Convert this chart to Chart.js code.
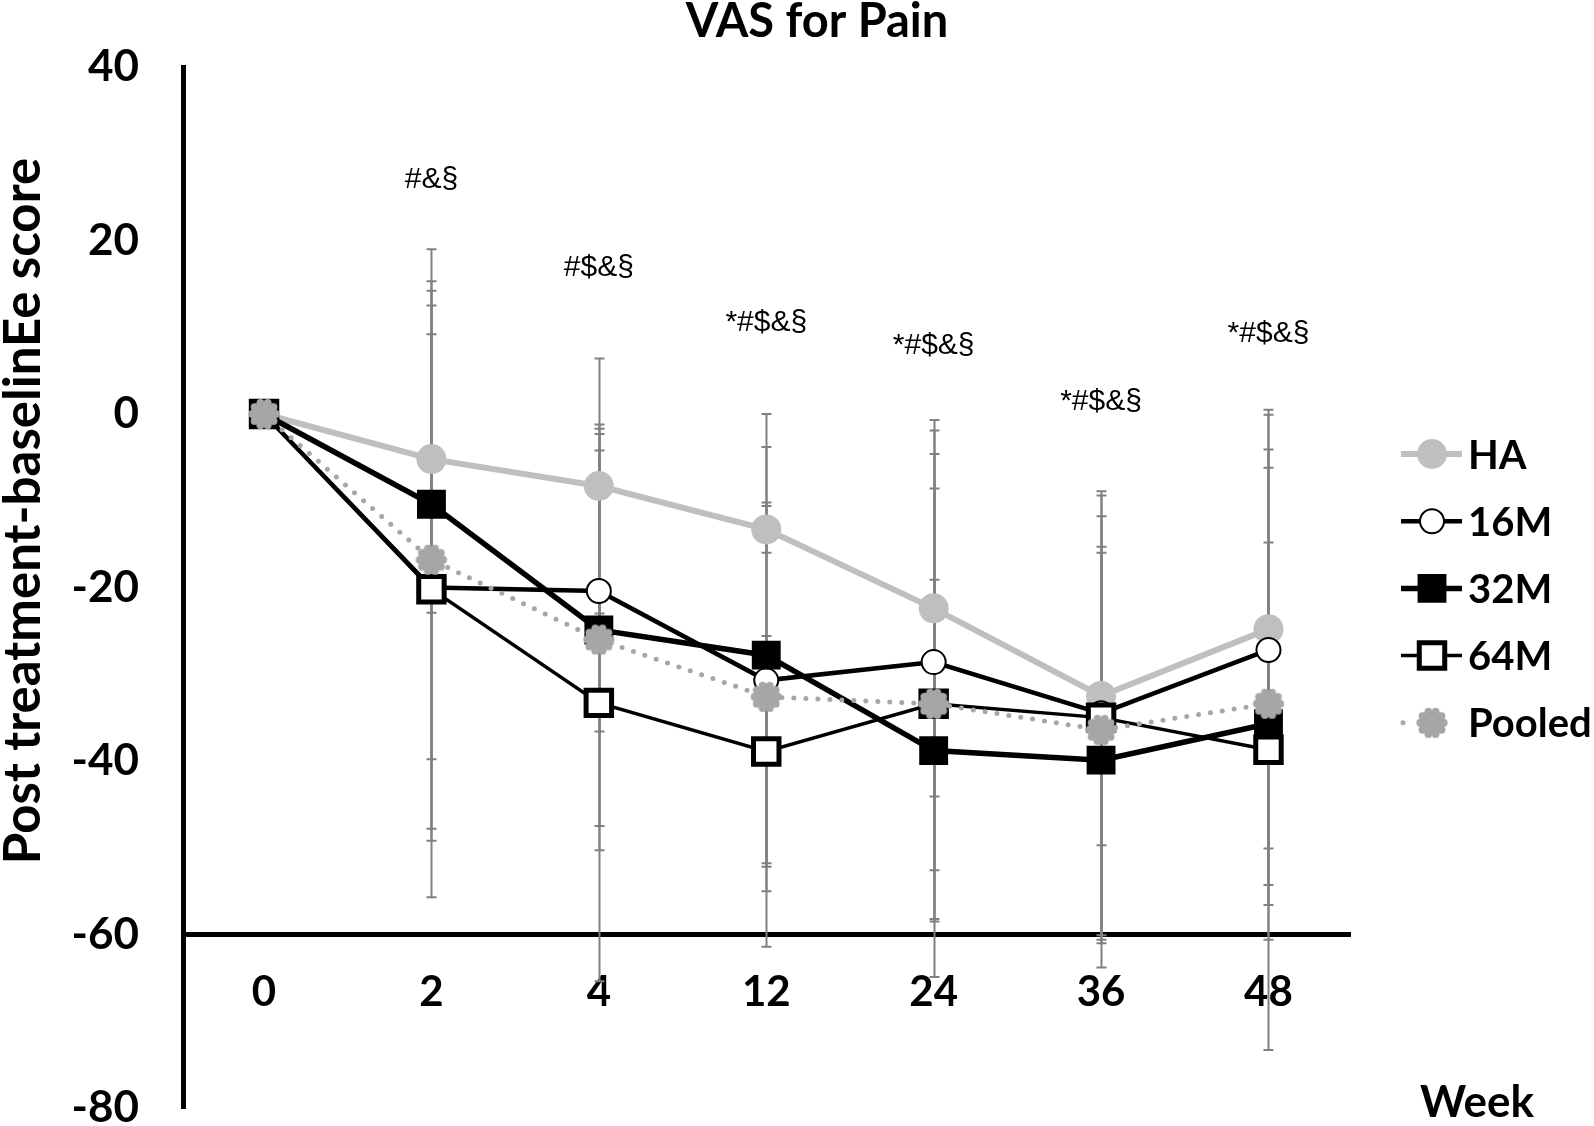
<!DOCTYPE html>
<html>
<head>
<meta charset="utf-8">
<title>VAS for Pain</title>
<script src="https://cdn.jsdelivr.net/npm/chart.js@4.4.1/dist/chart.umd.min.js"></script>
<style>
    html, body { margin: 0; padding: 0; background: #fff; }
</style>
</head>
<body>
<canvas id="vasChart" width="1594" height="1126"></canvas>
<script>
// categories (weeks) and tick values
const weeks = ["0", "2", "4", "12", "24", "36", "48"];
const yMin = -80, yMax = 40, yStep = 20;

// means (post treatment - baseline) and SD per group
const haMean = [0, -5.2, -8.3, -13.3, -22.4, -32.5, -24.8];
const haSd = [0, 17.7, 14.7, 2.7, 21.7, 17.2, 25.3];
const m16Mean = [0, -20.0, -20.4, -30.7, -28.6, -34.5, -27.2];
const m16Sd = [0, 29.2, 16.2, 30.7, 24.0, 25.6, 27.1];
const m32Mean = [0, -10.4, -24.9, -27.8, -38.8, -39.9, -35.7];
const m32Sd = [0, 29.4, 22.6, 24.0, 19.7, 23.9, 20.9];
const m64Mean = [0, -20.2, -33.3, -38.9, -33.4, -35.0, -38.7];
const m64Sd = [0, 35.5, 32.1, 13.3, 31.5, 25.6, 34.6];
const pooledMean = [0, -16.8, -26.0, -32.6, -33.4, -36.4, -33.4];
const pooledSd = [0, 31.0, 24.3, 22.4, 24.8, 24.6, 27.2];

// significance marks above each week
const sigLabels = ["", "#&§", "#$&§", "*#$&§", "*#$&§", "*#$&§", "*#$&§"];
const sigY = [null, 27.0, 16.9, 10.5, 7.9, 1.4, 9.3];

const LIGHT = "#bfbfbf";
const POOLED = "#a6a6a6";
const ERR = "#808080";
const FONT = "Lato, 'Open Sans', sans-serif";

function toPoints(arr) {
    return arr.map((v, i) => ({ x: i, y: v }));
}

// gear-ish marker used for the pooled group
function makeGear(r, color) {
    const c = document.createElement("canvas");
    const s = Math.ceil(r * 2 + 4);
    c.width = s;
    c.height = s;
    const g = c.getContext("2d");
    const cx = s / 2;
    g.fillStyle = color;
    g.beginPath();
    g.arc(cx, cx, r * 0.8, 0, Math.PI * 2);
    g.fill();
    for (let k = 0; k < 10; k++) {
        const a = (k * Math.PI) / 5;
        g.beginPath();
        g.arc(cx + Math.cos(a) * r * 0.78, cx + Math.sin(a) * r * 0.78, r * 0.26, 0, Math.PI * 2);
        g.fill();
    }
    return c;
}
const gear = makeGear(15, POOLED);

const datasets = [
    {
        label: "HA", data: toPoints(haMean), sd: haSd, order: 5,
        borderColor: LIGHT, borderWidth: 6,
        pointStyle: "circle", pointRadius: 15,
        pointBackgroundColor: LIGHT, pointBorderColor: LIGHT, pointBorderWidth: 0,
    },
    {
        label: "16M", data: toPoints(m16Mean), sd: m16Sd, order: 4,
        borderColor: "#000", borderWidth: 4.5,
        pointStyle: "circle", pointRadius: 12,
        pointBackgroundColor: "#fff", pointBorderColor: "#000", pointBorderWidth: 2,
    },
    {
        label: "32M", data: toPoints(m32Mean), sd: m32Sd, order: 3,
        borderColor: "#000", borderWidth: 5.5,
        pointStyle: "rect", pointRadius: 19,
        pointBackgroundColor: "#000", pointBorderColor: "#000", pointBorderWidth: 2,
    },
    {
        label: "64M", data: toPoints(m64Mean), sd: m64Sd, order: 2,
        borderColor: "#000", borderWidth: 3.5,
        pointStyle: "rect", pointRadius: 18,
        pointBackgroundColor: "#fff", pointBorderColor: "#000", pointBorderWidth: 5,
    },
    {
        label: "Pooled", data: toPoints(pooledMean), sd: pooledSd, order: 1,
        borderColor: POOLED, borderWidth: 5, borderDash: [0, 12], borderCapStyle: "round",
        pointStyle: gear, pointRadius: 15,
        pointBackgroundColor: POOLED, pointBorderColor: POOLED, pointBorderWidth: 0,
    },
];

// error bars behind the lines
const errorBars = {
    id: "errorBars",
    beforeDatasetsDraw(chart) {
        const { ctx, scales: { x, y } } = chart;
        ctx.save();
        ctx.strokeStyle = ERR;
        ctx.lineWidth = 2;
        chart.data.datasets.forEach((ds) => {
            ds.data.forEach((p, i) => {
                const sd = ds.sd[i];
                if (!sd) return;
                const px = Math.round(x.getPixelForValue(p.x)) + 0.5;
                const top = y.getPixelForValue(p.y + sd);
                const bot = y.getPixelForValue(p.y - sd);
                ctx.beginPath();
                ctx.moveTo(px, top);
                ctx.lineTo(px, bot);
                ctx.moveTo(px - 5, top);
                ctx.lineTo(px + 5, top);
                ctx.moveTo(px - 5, bot);
                ctx.lineTo(px + 5, bot);
                ctx.stroke();
            });
        });
        ctx.restore();
    },
};

// titles, significance marks and legend
const decorations = {
    id: "decorations",
    afterDraw(chart) {
        const { ctx, scales: { x, y } } = chart;
        ctx.save();
        ctx.fillStyle = "#000";

        ctx.font = "bold 47px " + FONT;
        ctx.textAlign = "center";
        ctx.textBaseline = "alphabetic";
        ctx.fillText("VAS for Pain", 817, 37);

        ctx.save();
        ctx.translate(24, 511);
        ctx.rotate(-Math.PI / 2);
        ctx.font = "bold 51px " + FONT;
        ctx.textBaseline = "middle";
        ctx.fillText("Post treatment-baselinEe score", 0, 0);
        ctx.restore();

        ctx.font = "bold 44px " + FONT;
        ctx.textAlign = "left";
        ctx.fillText("Week", 1420, 1117);

        ctx.font = "30px 'Liberation Sans', Arial, sans-serif";
        ctx.textAlign = "center";
        ctx.textBaseline = "middle";
        sigLabels.forEach((t, i) => {
            if (!t) return;
            ctx.fillText(t, x.getPixelForValue(i), y.getPixelForValue(sigY[i]));
        });

        // legend
        const lx0 = 1401, lx1 = 1462, mx = 1432;
        chart.data.datasets.forEach((ds, k) => {
            const ry = 454 + k * 67.2;
            ctx.save();
            ctx.strokeStyle = ds.borderColor;
            ctx.lineWidth = ds.borderWidth;
            if (ds.borderDash) {
                ctx.setLineDash([0, 29]);
                ctx.lineCap = "round";
            }
            ctx.beginPath();
            ctx.moveTo(ds.borderDash ? 1403 : lx0, ry);
            ctx.lineTo(ds.borderDash ? 1461 : lx1, ry);
            ctx.stroke();
            ctx.setLineDash([]);
            ctx.fillStyle = ds.pointBackgroundColor;
            ctx.strokeStyle = ds.pointBorderColor;
            ctx.lineWidth = ds.pointBorderWidth;
            Chart.helpers.drawPoint(ctx, {
                pointStyle: ds.pointStyle,
                radius: ds.pointRadius,
                rotation: 0,
                borderWidth: ds.pointBorderWidth,
            }, mx, ry);
            ctx.restore();
            ctx.fillStyle = "#000";
            ctx.font = "bold 40px " + FONT;
            ctx.textAlign = "left";
            ctx.textBaseline = "alphabetic";
            ctx.fillText(ds.label, 1468, ry + 14.5);
        });
        ctx.restore();
    },
};

new Chart(document.getElementById("vasChart"), {
    type: "line",
    data: { datasets },
    options: {
        responsive: false,
        animation: false,
        layout: { autoPadding: false, padding: { left: 0, right: 244, top: 67, bottom: 18 } },
        plugins: {
            legend: { display: false },
            title: { display: false },
            tooltip: { enabled: false },
        },
        elements: { line: { tension: 0 } },
        scales: {
            x: {
                type: "linear",
                min: -0.484,
                max: 6.487,
                position: { y: -60 },
                grid: { display: false, drawTicks: false },
                border: { display: true, color: "#000", width: 5 },
                ticks: {
                    stepSize: 1,
                    includeBounds: false,
                    maxRotation: 0,
                    autoSkip: false,
                    padding: 37,
                    color: "#000",
                    font: { family: FONT, size: 42, weight: "bold", lineHeight: 1 },
                    callback: (v) => {
                        const i = Math.round(v);
                        return Math.abs(v - i) < 1e-6 && weeks[i] !== undefined ? weeks[i] : null;
                    },
                },
            },
            y: {
                min: yMin,
                max: yMax,
                position: "left",
                afterFit: (s) => { s.width = 183; },
                grid: { display: false, drawTicks: true, tickLength: 44 },
                border: { display: true, color: "#000", width: 5 },
                ticks: {
                    stepSize: yStep,
                    padding: 0,
                    color: "#000",
                    font: { family: FONT, size: 44, weight: "bold", lineHeight: 0.2 },
                },
            },
        },
    },
    plugins: [errorBars, decorations],
});
</script>
</body>
</html>
